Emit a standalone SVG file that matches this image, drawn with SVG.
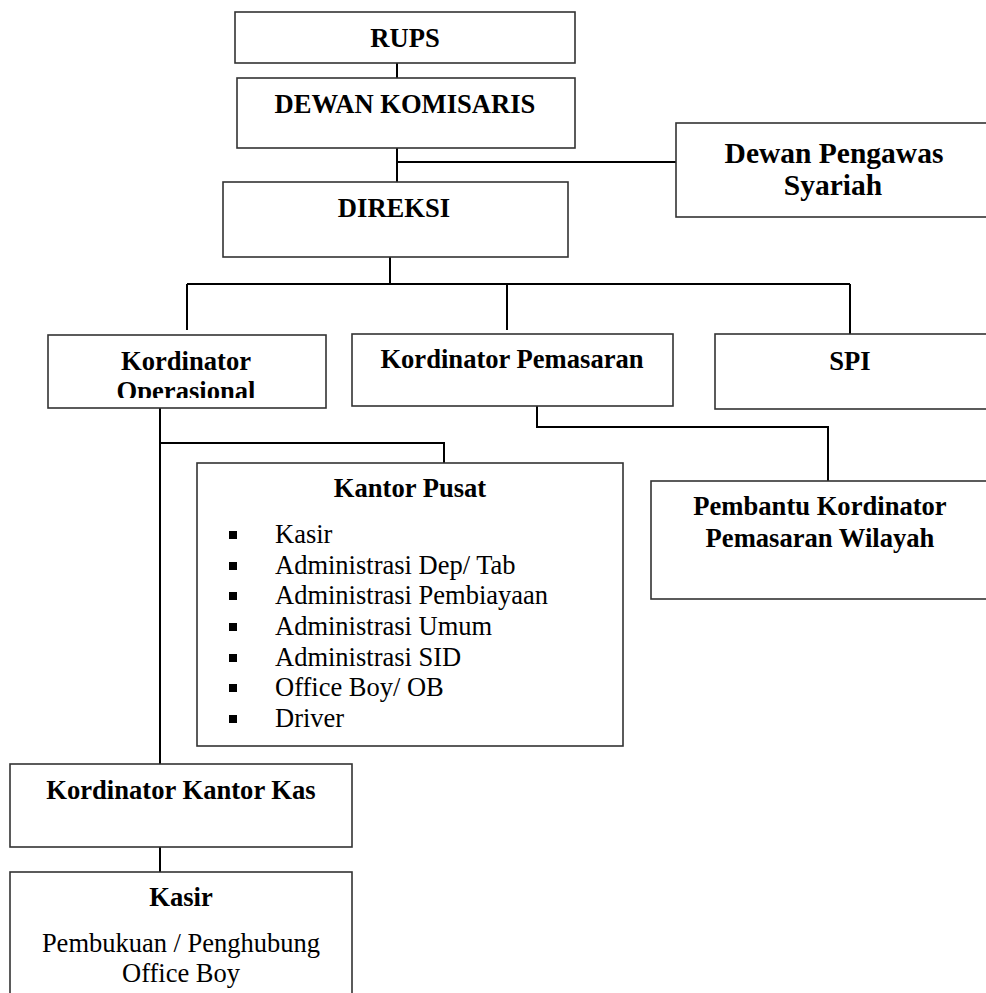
<svg xmlns="http://www.w3.org/2000/svg" width="986" height="993" viewBox="0 0 986 993">
<style>
.box{fill:#fff;stroke:#333;stroke-width:1.6}
.b{font-family:'Liberation Serif','Tinos','Times New Roman','Nimbus Roman','DejaVu Serif',serif;font-weight:bold;font-size:26.6px;fill:#000;text-anchor:middle}
.r{font-family:'Liberation Serif','Tinos','Times New Roman','Nimbus Roman','DejaVu Serif',serif;font-size:26.5px;fill:#000}
.c{text-anchor:middle}
.ln{fill:none;stroke:#000;stroke-width:2}
</style>
<defs>
<clipPath id="clipOp"><rect x="48" y="335" width="278" height="63"/></clipPath>
</defs>
<rect width="986" height="993" fill="#fff"/>
<g id="connectors">
<line class="ln" x1="397" y1="63" x2="397" y2="78"/>
<line class="ln" x1="397" y1="148" x2="397" y2="182"/>
<line class="ln" x1="397" y1="162" x2="676" y2="162"/>
<line class="ln" x1="390" y1="257" x2="390" y2="284"/>
<line class="ln" x1="187" y1="284" x2="850" y2="284"/>
<line class="ln" x1="187" y1="284" x2="187" y2="330"/>
<line class="ln" x1="507" y1="284" x2="507" y2="330"/>
<line class="ln" x1="850" y1="284" x2="850" y2="334"/>
<line class="ln" x1="160" y1="408" x2="160" y2="764"/>
<polyline class="ln" points="160,443 444,443 444,463"/>
<polyline class="ln" points="537,406 537,427 828,427 828,481"/>
<line class="ln" x1="160" y1="847" x2="160" y2="872"/>
</g>
<g id="rups">
<rect class="box" x="235" y="12" width="340" height="51"/>
<text class="b" x="405" y="47">RUPS</text>
</g>
<g id="dewan-komisaris">
<rect class="box" x="237" y="78" width="338" height="70"/>
<text class="b" x="405" y="113">DEWAN KOMISARIS</text>
</g>
<g id="dewan-pengawas-syariah">
<rect class="box" x="676" y="123" width="320" height="94"/>
<text class="b" x="834" y="163" style="font-size:29.5px">Dewan Pengawas</text>
<text class="b" x="833" y="195" style="font-size:29.5px">Syariah</text>
</g>
<g id="direksi">
<rect class="box" x="223" y="182" width="345" height="75"/>
<text class="b" x="394" y="217">DIREKSI</text>
</g>
<g id="kordinator-operasional">
<rect class="box" x="48" y="335" width="278" height="73"/>
<text class="b" x="186" y="370">Kordinator</text>
<text class="b" x="186" y="400" clip-path="url(#clipOp)">Operasional</text>
</g>
<g id="kordinator-pemasaran">
<rect class="box" x="352" y="334" width="321" height="72"/>
<text class="b" x="512" y="368">Kordinator Pemasaran</text>
</g>
<g id="spi">
<rect class="box" x="715" y="334" width="281" height="75"/>
<text class="b" x="850" y="370">SPI</text>
</g>
<g id="kantor-pusat">
<rect class="box" x="197" y="463" width="426" height="283"/>
<text class="b" x="410" y="497">Kantor Pusat</text>
<g fill="#000">
<rect x="229" y="531" width="8" height="8"/>
<rect x="229" y="562" width="8" height="8"/>
<rect x="229" y="592" width="8" height="8"/>
<rect x="229" y="623" width="8" height="8"/>
<rect x="229" y="654" width="8" height="8"/>
<rect x="229" y="684" width="8" height="8"/>
<rect x="229" y="715" width="8" height="8"/>
</g>
<text class="r" x="275" y="543">Kasir</text>
<text class="r" x="275" y="574">Administrasi Dep/ Tab</text>
<text class="r" x="275" y="604">Administrasi Pembiayaan</text>
<text class="r" x="275" y="635">Administrasi Umum</text>
<text class="r" x="275" y="666">Administrasi SID</text>
<text class="r" x="275" y="696">Office Boy/ OB</text>
<text class="r" x="275" y="727">Driver</text>
</g>
<g id="pembantu-kordinator">
<rect class="box" x="651" y="481" width="345" height="118"/>
<text class="b" x="820" y="515">Pembantu Kordinator</text>
<text class="b" x="820" y="547">Pemasaran Wilayah</text>
</g>
<g id="kordinator-kantor-kas">
<rect class="box" x="10" y="764" width="342" height="83"/>
<text class="b" x="181" y="799">Kordinator Kantor Kas</text>
</g>
<g id="kasir">
<rect class="box" x="10" y="872" width="342" height="140"/>
<text class="b" x="181" y="906">Kasir</text>
<text class="r c" x="181" y="952">Pembukuan / Penghubung</text>
<text class="r c" x="181" y="982">Office Boy</text>
</g>
</svg>
